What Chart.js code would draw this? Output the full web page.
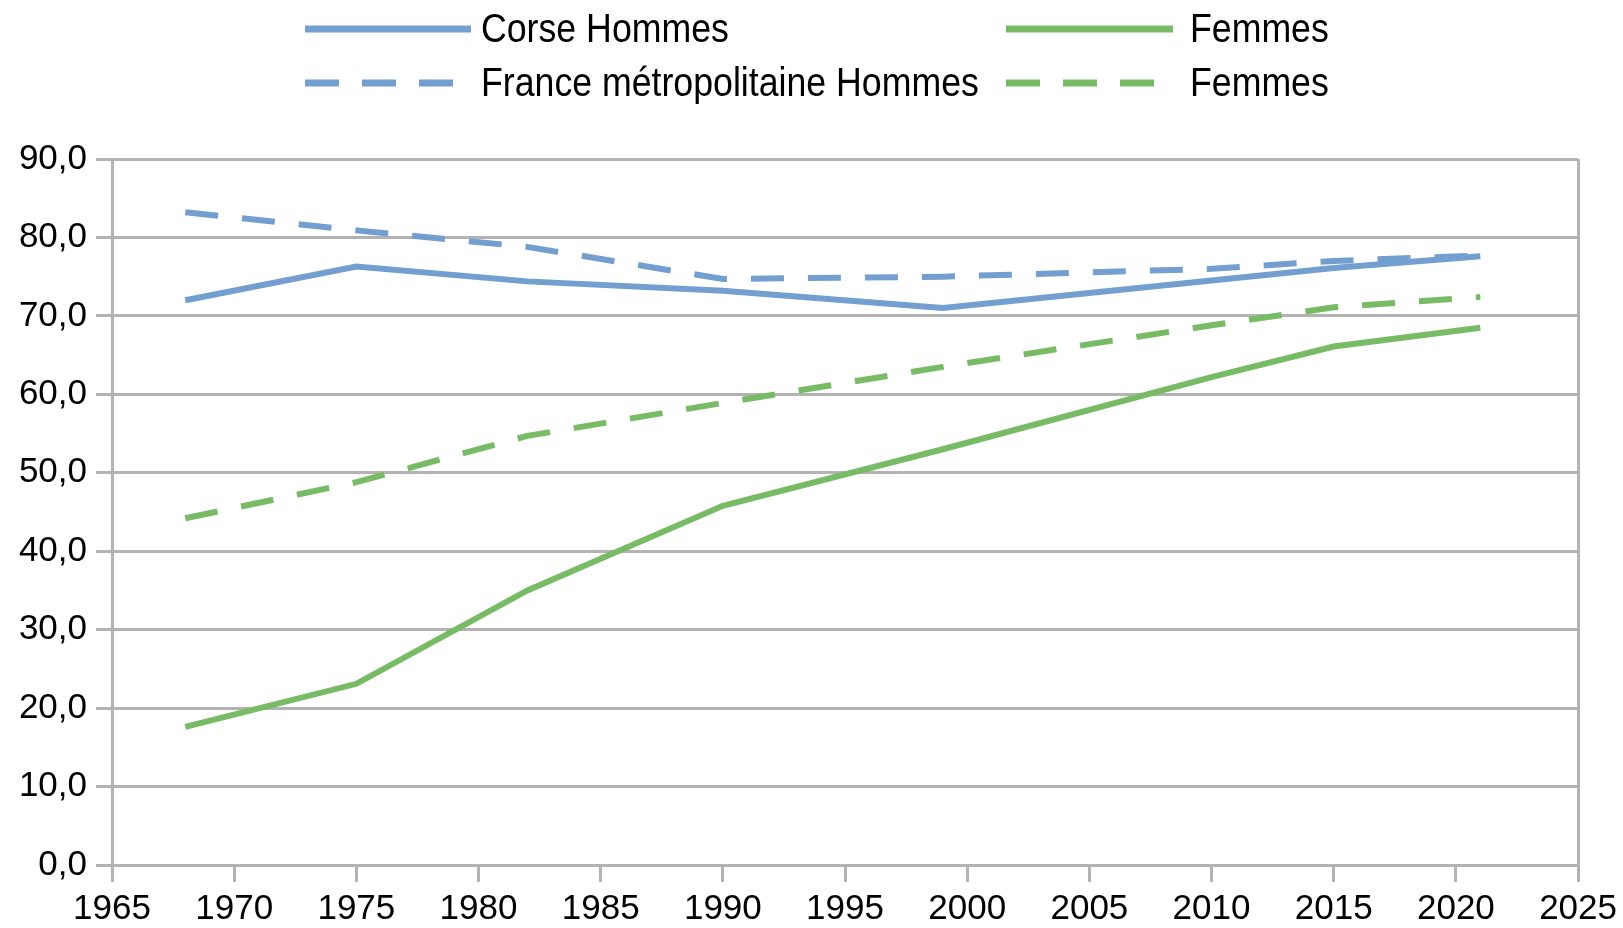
<!DOCTYPE html>
<html lang="fr">

<head>
    <meta charset="UTF-8">
    <title>Taux d'activité - Corse / France métropolitaine</title>
    <style>
        body {
            margin: 0;
            padding: 0;
            background: #fff;
            font-family: "Liberation Sans", Arial, sans-serif;
        }

        .wrap {
            position: relative;
            width: 1623px;
            height: 928px;
        }

        #legend {
            position: absolute;
            top: 0;
            left: 0;
        }

        .legend-line {
            position: absolute;
        }

        .legend-text {
            position: absolute;
            font-size: 35.7px;
            line-height: 40px;
            color: #000;
            white-space: nowrap;
            transform: scaleY(1.12);
            transform-origin: left center;
        }
    </style>
</head>

<body>
    <div class="wrap">
        <canvas id="activityChart" width="1623" height="928"></canvas>
        <div id="legend"></div>
    </div>

    <script src="https://cdn.jsdelivr.net/npm/chart.js"></script>
    <script>
        // Données
        const years = [1968, 1975, 1982, 1990, 1999, 2010, 2015, 2021];
        const corseHommes = [72.0, 76.3, 74.4, 73.2, 71.0, 74.5, 76.1, 77.6];
        const corseFemmes = [17.6, 23.1, 35.0, 45.8, 53.0, 62.2, 66.1, 68.5];
        const franceHommes = [83.2, 80.9, 78.8, 74.7, 75.0, 76.0, 77.0, 77.7];
        const franceFemmes = [44.2, 48.8, 54.7, 58.9, 63.5, 68.8, 71.1, 72.4];
        const legendLabels = ['Corse Hommes', 'Femmes', 'France métropolitaine Hommes', 'Femmes'];

        const blue = '#729fcf';
        const green = '#77bc65';
        const gridColor = '#b3b3b3';
        const dash = [33, 24];

        function toPoints(values) {
            return years.map((y, i) => ({ x: y, y: values[i] }));
        }

        const datasets = [
            { label: legendLabels[0], data: toPoints(corseHommes), borderColor: blue, borderDash: [] },
            { label: legendLabels[1], data: toPoints(corseFemmes), borderColor: green, borderDash: [] },
            { label: legendLabels[2], data: toPoints(franceHommes), borderColor: blue, borderDash: dash },
            { label: legendLabels[3], data: toPoints(franceFemmes), borderColor: green, borderDash: dash }
        ].map(d => Object.assign(d, {
            borderWidth: 6,
            pointRadius: 0,
            tension: 0,
            fill: false,
            borderCapStyle: 'butt'
        }));

        const tickFont = { family: '"Liberation Sans", Arial, sans-serif', size: 35 };

        const ctx = document.getElementById('activityChart').getContext('2d');
        const chart = new Chart(ctx, {
            type: 'line',
            data: { datasets: datasets },
            options: {
                responsive: false,
                animation: false,
                layout: { padding: { top: 159, right: 43, left: 0, bottom: 0 } },
                plugins: {
                    legend: { display: false },
                    tooltip: { enabled: false }
                },
                scales: {
                    x: {
                        type: 'linear',
                        min: 1965,
                        max: 2025,
                        afterFit: scale => { scale.height = 63; },
                        ticks: {
                            stepSize: 5,
                            color: '#000',
                            font: tickFont,
                            padding: 6,
                            maxRotation: 0,
                            autoSkip: false,
                            callback: v => String(v)
                        },
                        grid: {
                            color: c => (c.tick && c.tick.value === 2025) ? gridColor : 'rgba(0,0,0,0)',
                            tickColor: gridColor,
                            tickLength: 17,
                            lineWidth: 3
                        },
                        border: { color: gridColor, width: 3 }
                    },
                    y: {
                        min: 0,
                        max: 90,
                        afterFit: scale => { scale.width = 112; },
                        ticks: {
                            stepSize: 10,
                            color: '#000',
                            font: tickFont,
                            padding: 9,
                            callback: v => v.toFixed(1).replace('.', ',')
                        },
                        grid: {
                            color: gridColor,
                            tickColor: gridColor,
                            tickLength: 16,
                            lineWidth: 3
                        },
                        border: { color: gridColor, width: 3 }
                    }
                }
            }
        });

        // Légende en deux colonnes, construite à partir des séries
        const legendSlots = [
            { lineX: 305, textX: 481, y: 29, len: 166 },
            { lineX: 1006, textX: 1190, y: 29, len: 167 },
            { lineX: 305, textX: 481, y: 83, len: 166 },
            { lineX: 1006, textX: 1190, y: 83, len: 167 }
        ];
        const legend = document.getElementById('legend');
        chart.data.datasets.forEach((ds, i) => {
            const s = legendSlots[i];
            const svgNS = 'http://www.w3.org/2000/svg';
            const svg = document.createElementNS(svgNS, 'svg');
            svg.setAttribute('class', 'legend-line');
            svg.setAttribute('width', s.len);
            svg.setAttribute('height', 10);
            svg.style.left = s.lineX + 'px';
            svg.style.top = (s.y - 5) + 'px';
            const line = document.createElementNS(svgNS, 'line');
            line.setAttribute('x1', 0);
            line.setAttribute('y1', 5);
            line.setAttribute('x2', s.len);
            line.setAttribute('y2', 5);
            line.setAttribute('stroke', ds.borderColor);
            line.setAttribute('stroke-width', 7);
            if (ds.borderDash.length) line.setAttribute('stroke-dasharray', '34 23');
            svg.appendChild(line);
            legend.appendChild(svg);

            const span = document.createElement('span');
            span.className = 'legend-text';
            span.textContent = ds.label;
            span.style.left = s.textX + 'px';
            span.style.top = (s.y - 20) + 'px';
            legend.appendChild(span);
        });
    </script>
</body>

</html>
